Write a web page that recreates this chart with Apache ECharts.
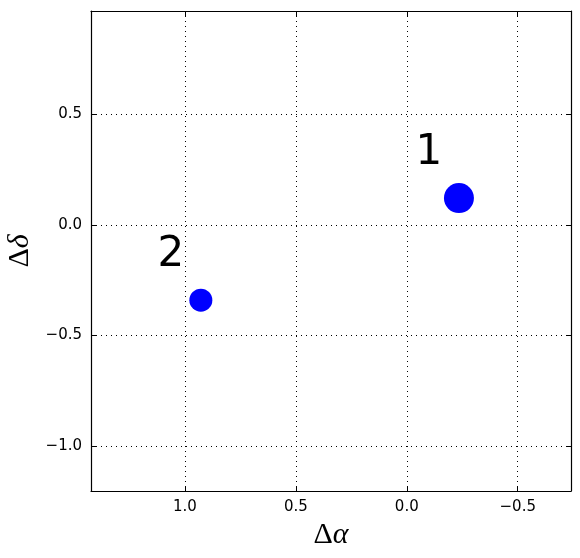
<!DOCTYPE html>
<html>
<head>
<meta charset="utf-8">
<script src="https://cdn.jsdelivr.net/npm/echarts@6/dist/echarts.min.js"></script>
<style>html,body{margin:0;padding:0;background:#fff;}#c{width:580px;height:558px;}</style>
</head>
<body>
<div id="c"></div>
<script>
// Data
var pointLabels = ['1', '2'];
var dAlpha = [-0.235, 0.928];
var dDelta = [0.122, -0.340];
var pointSizes = [30, 23];
var xTicks = [1.0, 0.5, 0.0, -0.5];
var yTicks = [0.5, 0.0, -0.5, -1.0];
var xRange = [-0.74, 1.423];
var yRange = [-1.204, 0.969];

function fmt(v) {
  var s = Number(v).toFixed(1);
  return s.replace('-', '\u2212');
}

var chart = echarts.init(document.getElementById('c'), null, {renderer: 'canvas'});

var tickStyle = {show: true, inside: true, length: 5, lineStyle: {color: '#000', width: 1}};
var font = 'DejaVu Sans';
var titleRich = {
  d: {fontSize: 30, fontFamily: 'Liberation Serif', color: '#000'},
  a: {fontSize: 30, fontFamily: 'Liberation Serif', fontStyle: 'italic', color: '#000'}
};

function xAxisDef(pos, main) {
  return {
    type: 'value', position: pos, inverse: true,
    min: xRange[0], max: xRange[1],
    axisLine: {show: true, onZero: false, lineStyle: {color: '#000', width: 1.2}},
    axisTick: Object.assign({customValues: xTicks}, tickStyle),
    axisLabel: {show: main, customValues: xTicks, formatter: fmt, color: '#000', fontSize: 15, fontFamily: font, margin: 9},
    splitLine: {show: main, lineStyle: {color: '#000', type: [1, 4], width: 1}},
    name: main ? '{d|\u0394}{a|\u03b1}' : '',
    nameLocation: 'middle', nameGap: 29,
    nameTextStyle: {rich: titleRich}
  };
}
function yAxisDef(pos, main) {
  return {
    type: 'value', position: pos,
    min: yRange[0], max: yRange[1],
    axisLine: {show: true, onZero: false, lineStyle: {color: '#000', width: 1.2}},
    axisTick: Object.assign({customValues: yTicks}, tickStyle),
    axisLabel: {show: main, customValues: yTicks, formatter: fmt, color: '#000', fontSize: 15, fontFamily: font, margin: 9},
    splitLine: {show: main, lineStyle: {color: '#000', type: [1, 4], width: 1}},
    name: main ? '{d|\u0394}{a|\u03b4}' : '',
    nameLocation: 'middle', nameGap: 54, nameRotate: 90,
    nameTextStyle: {rich: titleRich}
  };
}

var data = dAlpha.map(function (x, i) {
  return {value: [x, dDelta[i]], symbolSize: pointSizes[i], label: {formatter: pointLabels[i]}};
});

chart.setOption({
  animation: false,
  backgroundColor: '#fff',
  grid: {left: 91, right: 9, top: 11, bottom: 67, containLabel: false, outerBoundsMode: 'none'},
  xAxis: [xAxisDef('bottom', true), xAxisDef('top', false)],
  yAxis: [yAxisDef('left', true), yAxisDef('right', false)],
  series: [{
    type: 'scatter',
    xAxisIndex: 0, yAxisIndex: 0,
    data: data,
    itemStyle: {color: '#0000ff', opacity: 1},
    label: {show: true, position: 'inside', offset: [-30, -45], fontSize: 42, fontFamily: font, color: '#000'}
  }]
});
</script>
</body>
</html>
